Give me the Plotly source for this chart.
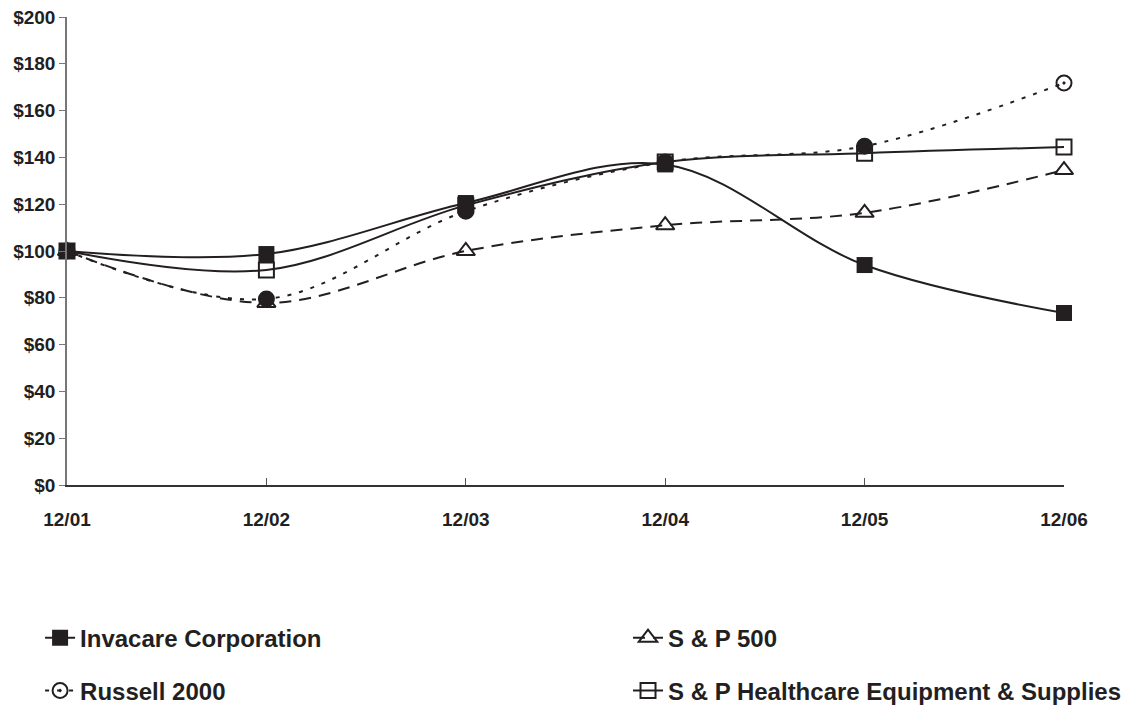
import plotly.graph_objects as go

categories = ["12/01", "12/02", "12/03", "12/04", "12/05", "12/06"]
invacare = [100, 98.7, 120.5, 137, 94, 73.5]
sp500 = [100, 77.8, 100, 111, 116.3, 134.6]
russell = [100, 79.5, 117, 138, 144.8, 171.8]
healthcare = [100, 91.9, 119.5, 138, 141.8, 144.4]
yticks = list(range(0, 201, 20))
ytick_labels = ["$" + str(v) for v in yticks]

INK = "#231f20"
FONT = "Liberation Sans"

fig = go.Figure()

fig.add_trace(go.Scatter(
    x=categories, y=healthcare, name="S & P Healthcare Equipment & Supplies",
    mode="lines+markers", line=dict(color=INK, width=2, shape="spline", smoothing=1),
    marker=dict(symbol="square-open", size=15, color=INK, line=dict(width=2, color=INK)),
    legend="legend4", cliponaxis=False,
))
fig.add_trace(go.Scatter(
    x=categories, y=sp500, name="S & P 500",
    mode="lines+markers", line=dict(color=INK, width=2, shape="spline", smoothing=1, dash="12px,8px"),
    marker=dict(symbol="triangle-up-open", size=16, color=INK, line=dict(width=2, color=INK)),
    legend="legend2", cliponaxis=False,
))
fig.add_trace(go.Scatter(
    x=categories, y=russell, name="Russell 2000",
    mode="lines+markers", line=dict(color=INK, width=2, shape="spline", smoothing=1, dash="4px,8px"),
    marker=dict(symbol=["circle-open-dot", "circle", "circle", "circle", "circle", "circle-open-dot"],
                size=15, color=INK, line=dict(width=2, color=INK)),
    legend="legend3", cliponaxis=False,
))
fig.add_trace(go.Scatter(
    x=categories, y=invacare, name="Invacare Corporation",
    mode="lines+markers", line=dict(color=INK, width=2, shape="spline", smoothing=1),
    marker=dict(symbol="square", size=16, color=INK, line=dict(width=0)),
    legend="legend", cliponaxis=False,
))

legend_common = dict(
    orientation="h", xanchor="left", yanchor="middle",
    font=dict(family=FONT, size=24, color=INK, weight="bold"),
    bgcolor="rgba(0,0,0,0)",
    itemclick=False, itemdoubleclick=False,
)

fig.update_layout(
    width=1133, height=719,
    margin=dict(l=59, r=77, t=9, b=242, autoexpand=False),
    paper_bgcolor="white", plot_bgcolor="white",
    showlegend=True,
    legend=dict(**legend_common, x=-0.027, y=-0.327),
    legend2=dict(**legend_common, x=0.5627, y=-0.327),
    legend3=dict(**legend_common, x=-0.027, y=-0.44),
    legend4=dict(**legend_common, x=0.5627, y=-0.44),
    font=dict(family=FONT, color=INK),
)

fig.update_xaxes(
    type="category", range=[0, 5], automargin=False,
    showgrid=False, zeroline=False,
    showline=True, linecolor="#333333", linewidth=1.5,
    ticks="inside", ticklen=7, tickcolor="#555555",
    tickfont=dict(family=FONT, size=19, color=INK, weight="bold"),
    ticklabelstandoff=16, ticklabeloverflow="allow",
)
fig.update_yaxes(
    range=[0, 200], tickvals=yticks, ticktext=ytick_labels, automargin=False,
    showgrid=False, zeroline=False,
    showline=True, linecolor="#777777", linewidth=1.5,
    ticks="outside", ticklen=6, tickcolor="#777777",
    tickfont=dict(family=FONT, size=19, color=INK, weight="bold"),
    ticklabeloverflow="allow",
)

fig.write_html("out.html")
